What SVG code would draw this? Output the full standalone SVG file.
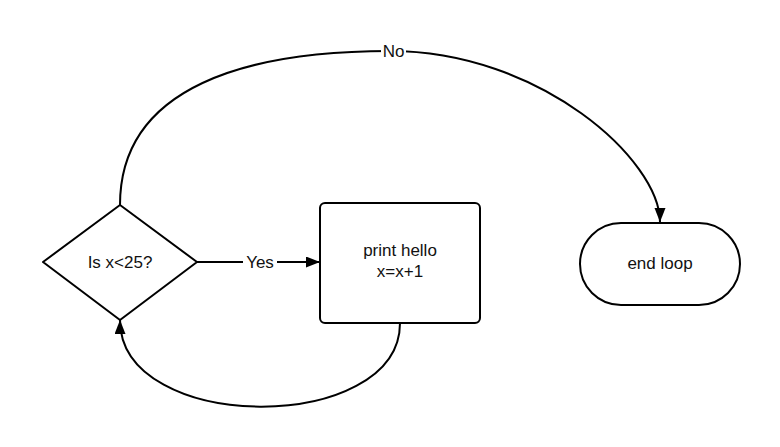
<svg xmlns="http://www.w3.org/2000/svg" width="780" height="447" viewBox="0 0 780 447">
  <style>
    .shape { fill: #ffffff; stroke: #000000; stroke-width: 2; stroke-linejoin: round; }
    .edge { fill: none; stroke: #000000; stroke-width: 2; }
    .txt { font-family: "Liberation Sans", Arial, sans-serif; font-size: 17px; fill: #111111; text-anchor: middle; }
    .lblbg { fill: #ffffff; stroke: none; }
  </style>
  <defs>
    <marker id="arrow" markerUnits="userSpaceOnUse" markerWidth="16" markerHeight="12" refX="14" refY="5.5" orient="auto">
      <path d="M0,0 L14,5.5 L0,11 Z" fill="#000000"/>
    </marker>
  </defs>

  <rect width="780" height="447" fill="#ffffff"/>

  <!-- connectors -->
  <g id="connectors">
    <!-- decision -> end (No) -->
    <path class="edge" d="M120,205 C120,85 250,51 390,51 C540,51 660,160 660,222" marker-end="url(#arrow)"/>
    <!-- decision -> process (Yes) -->
    <path class="edge" d="M197,262 L320,262" marker-end="url(#arrow)"/>
    <!-- process -> decision (loop back) -->
    <path class="edge" d="M400,323 C400,435 120,435 120,320" marker-end="url(#arrow)"/>
    <g id="label-no">
      <rect class="lblbg" x="381" y="41" width="25" height="20"/>
      <text class="txt" x="393.5" y="57">No</text>
    </g>
    <g id="label-yes">
      <rect class="lblbg" x="243" y="252" width="34" height="20"/>
      <text class="txt" x="260" y="268">Yes</text>
    </g>
  </g>

  <!-- decision -->
  <g id="decision">
    <path class="shape" d="M120,205 L197,262 L120,320 L43,262 Z"/>
    <text class="txt" x="120" y="268">Is x&lt;25?</text>
  </g>

  <!-- process -->
  <g id="process">
    <rect class="shape" x="320" y="203" width="160" height="120" rx="5" ry="5"/>
    <text class="txt" x="400" y="256">print hello</text>
    <text class="txt" x="400" y="277">x=x+1</text>
  </g>

  <!-- terminator -->
  <g id="end">
    <rect class="shape" x="580" y="223" width="160" height="82" rx="41" ry="41"/>
    <text class="txt" x="660" y="269">end loop</text>
  </g>
</svg>
